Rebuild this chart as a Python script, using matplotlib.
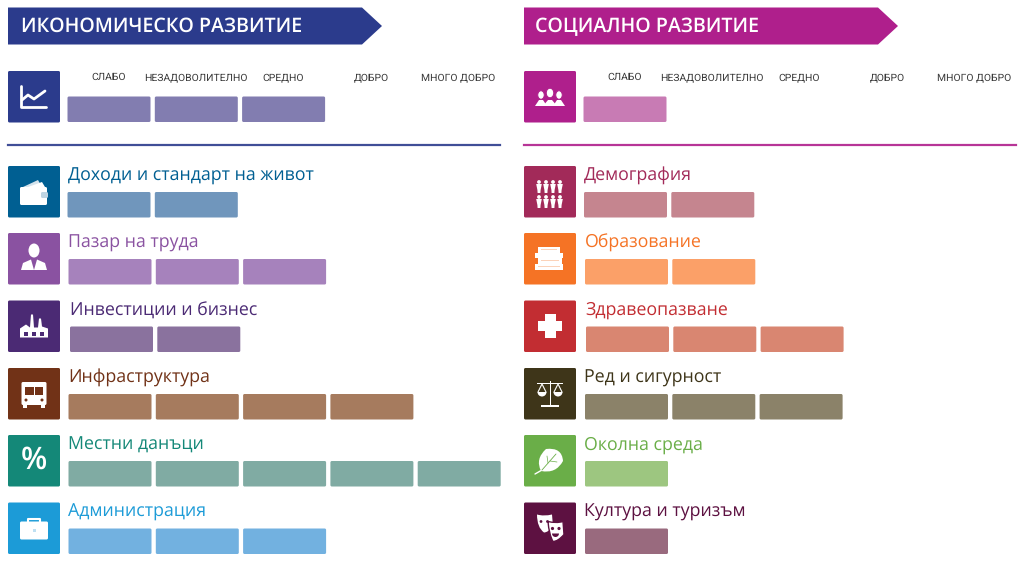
import matplotlib
matplotlib.use("Agg")
import matplotlib.pyplot as plt
from matplotlib.path import Path
from matplotlib.patches import FancyBboxPatch, PathPatch, Polygon, Rectangle, Circle, Ellipse, Wedge

# --- data ---
rating_labels = ["СЛАБО", "НЕЗАДОВОЛИТЕЛНО", "СРЕДНО", "ДОБРО", "МНОГО ДОБРО"]

econ_title = "ИКОНОМИЧЕСКО РАЗВИТИЕ"
econ_overall = 3
econ_names = ["Доходи и стандарт на живот", "Пазар на труда", "Инвестиции и бизнес",
              "Инфраструктура", "Местни данъци", "Администрация"]
econ_scores = [2, 3, 2, 4, 5, 3]

social_title = "СОЦИАЛНО РАЗВИТИЕ"
social_overall = 1
social_names = ["Демография", "Образование", "Здравеопазване",
                "Ред и сигурност", "Околна среда", "Култура и туризъм"]
social_scores = [2, 2, 3, 3, 1, 1]

# styles
econ_main, econ_bar = "#2B3B8C", "#827DB0"
social_main, social_bar = "#AF1F8C", "#C87BB4"
econ_colors = ["#005F92", "#8A52A1", "#4B2A74", "#713217", "#148878", "#1C9BD7"]
econ_bars = ["#7096BC", "#A682BC", "#8A729E", "#A67B5E", "#80ABA3", "#72B1E0"]
social_colors = ["#A22A59", "#F57325", "#C22D32", "#3E3519", "#6AAE48", "#5D1141"]
social_bars = ["#C5858F", "#FBA068", "#D98671", "#8B8269", "#9DC680", "#996A7E"]
econ_icons = ["wallet", "person", "factory", "bus", "percent", "case"]
social_icons = ["crowd", "books", "cross", "scales", "leaf", "masks"]
econ_offsets = [59.5, 60.5, 62, 60.5, 60.5, 60.5]
social_offsets = [60, 61, 62, 61, 61, 61]
label_offsets = [0, 1, 2, 1, 1, 1]

ROW_TOPS = [166, 233, 300.5, 368, 435, 502.5]
RATING_X = [100.5, 188, 275.5, 363.5, 450.5]
BAR_W, BAR_PITCH = 83, 87.3
ICON = 52

plt.rcParams["font.family"] = ["Open Sans", "DejaVu Sans"]
plt.rcParams["text.hinting"] = "no_hinting"
fig = plt.figure(figsize=(10.24, 5.61), dpi=100)
ax = fig.add_axes([0, 0, 1, 1])
ax.set_xlim(0, 1024)
ax.set_ylim(561, 0)
ax.axis("off")
W = "white"


def round_box(x, y, w, h, color):
    ax.add_patch(FancyBboxPatch((x + 1, y + 1), w - 2, h - 2, boxstyle="round,pad=1,rounding_size=1.5",
                                fc=color, ec="none"))


def draw_bars(x, y, n, color):
    for i in range(n):
        round_box(x + i * BAR_PITCH, y, BAR_W, 25.5, color)


def draw_icon(kind, x, y, bg):
    def rect(a, b, w, h, c=W):
        ax.add_patch(Rectangle((x + a, y + b), w, h, fc=c, ec="none"))

    def poly(pts, c=W):
        ax.add_patch(Polygon([(x + p, y + q) for p, q in pts], fc=c, ec="none"))

    def circ(a, b, r, c=W):
        ax.add_patch(Circle((x + a, y + b), r, fc=c, ec="none"))

    def line(pts, lw=1.5, c=W):
        ax.plot([x + p for p, _ in pts], [y + q for _, q in pts], color=c, lw=lw,
                solid_capstyle="round", solid_joinstyle="round")

    def curve(pts, codes, fc=W, ec="none", lw=0.8):
        ax.add_patch(PathPatch(Path([(x + p, y + q) for p, q in pts], codes), fc=fc, ec=ec, lw=lw))

    if kind == "trend":
        line([(13, 15), (13, 36), (38, 36)], 2.0)
        line([(14, 29), (20, 24), (26, 28), (37, 20)], 2.0)
    elif kind == "wallet":
        poly([(15, 21), (30, 14), (34, 21)], "#D5E3EC")
        poly([(20, 21), (34, 16), (37, 21)])
        round_box(x + 12, y + 21, 27, 18, W)
        round_box(x + 33, y + 26, 7, 6, "#BFD5E3")
    elif kind == "person":
        ax.add_patch(Ellipse((x + 26, y + 17.5), 11, 14, fc=W, ec="none"))
        poly([(13, 37), (15, 30), (23, 26.5), (26, 37), (29, 26.5), (37, 30), (39, 37)])
    elif kind == "factory":
        poly([(12, 37), (12, 28), (18, 24), (22, 27), (23, 14), (25, 14), (26, 27), (30, 27),
              (31, 18), (33, 18), (34, 26), (40, 28), (40, 37)])
        for i in range(3):
            rect(16 + i * 8, 31.5, 3.5, 3.5, bg)
    elif kind == "bus":
        round_box(x + 13.5, y + 14, 25, 23, W)
        rect(17, 19, 8.5, 8, bg)
        rect(26.5, 19, 8.5, 8, bg)
        circ(18, 32, 1.5, bg)
        circ(34, 32, 1.5, bg)
        rect(15, 37, 4, 3)
        rect(33, 37, 4, 3)
    elif kind == "percent":
        ax.text(x + 26, y + 25.5, "%", color=W, fontsize=22, fontweight="semibold", ha="center", va="center")
    elif kind == "case":
        round_box(x + 12, y + 19, 28, 18, W)
        ax.plot([x + 20, x + 20, x + 32, x + 32], [y + 19, y + 16, y + 16, y + 19], color=W, lw=1.5)
        rect(12, 27, 28, 0.8, bg)
        rect(24.5, 26, 3, 3, "#BFE0F2")
    elif kind == "group":
        for a, s in [(17, 1), (35, 1), (26, 0)]:
            ax.add_patch(Ellipse((x + a, y + 24 - (1 - s) * 2), 6.5 + (1 - s), 8.5 + (1 - s),
                                 fc=W, ec=bg, lw=0.7))
            poly([(a - 6 - (1 - s), 35), (a - 2, 29), (a + 2, 29), (a + 6 + (1 - s), 35)])
    elif kind == "crowd":
        for row in (17, 32):
            for col in (15, 22, 29, 36):
                circ(col, row - 1, 1.9)
                poly([(col - 2.8, row + 1), (col + 2.8, row + 1), (col + 1.6, row + 7), (col + 1.4, row + 10),
                      (col - 1.4, row + 10), (col - 1.6, row + 7)])
    elif kind == "books":
        for b, a, w in [(14, 14, 22), (19.5, 11, 28), (25, 14, 24), (31, 11, 28)]:
            rect(a, b, w, 5.6)
            rect(a + 3, b + 2, w - 6, 0.5, "#FBD3BA")
    elif kind == "cross":
        rect(20.5, 13.5, 11, 24)
        rect(14, 20.5, 24, 10)
    elif kind == "scales":
        rect(25.5, 13, 1.4, 24)
        rect(17, 37, 18, 1.5)
        rect(13, 15, 26, 1.3)
        for a in (18, 34):
            line([(a - 4, 24), (a, 16), (a + 4, 24)], 0.8)
            ax.add_patch(Wedge((x + a, y + 24), 4.5, 0, 180, fc=W, ec="none"))
    elif kind == "leaf":
        curve([(17, 36), (11, 24), (22, 14), (38, 12), (39, 26), (32, 39), (17, 36)],
              [Path.MOVETO, Path.CURVE3, Path.CURVE3, Path.CURVE3, Path.CURVE3, Path.CURVE3, Path.CURVE3])
        line([(11, 39), (18, 35)], 1.0)
        line([(18, 35), (32, 19)], 0.6, bg)
        line([(24, 28), (23, 21)], 0.5, bg)
        line([(26, 26), (33, 27)], 0.5, bg)
    elif kind == "masks":
        back = [(13, 12), (20, 14), (28, 12), (29, 24), (24, 30), (20, 30), (13, 25), (13, 12)]
        codes = [Path.MOVETO, Path.CURVE3, Path.CURVE3, Path.LINETO, Path.CURVE3, Path.CURVE3, Path.CURVE3,
                 Path.CURVE3]
        curve(back, codes)
        circ(17, 19, 1.4, bg)
        circ(23.5, 19, 1.4, bg)
        front = [(24, 19), (32, 21), (39, 19), (40, 32), (34, 39), (29, 39), (25, 32), (24, 19)]
        curve(front, codes, ec=bg, lw=1.0)
        circ(28.5, 26, 1.6, bg)
        circ(35, 26, 1.6, bg)
        ax.add_patch(Wedge((x + 31.5, y + 31), 3.5, 0, 180, fc=bg, ec="none"))


def draw_column(x0, title, title_x, main, overall, overall_bar, head_icon, names, scores, colors,
                bars, icons, offsets):
    # arrow banner
    ax.add_patch(Polygon([(x0, 7.5), (x0 + 354, 7.5), (x0 + 374, 26), (x0 + 354, 44.5), (x0, 44.5)],
                         fc=main, ec="none"))
    ax.text(x0 + title_x, 26.5, title, color=W, fontsize=14.1, fontweight="semibold", va="center")

    # overall block
    round_box(x0, 71, ICON, ICON - 0.5, main)
    draw_icon(head_icon, x0, 71, main)
    for i, lab in enumerate(rating_labels):
        ax.text(x0 + RATING_X[i], 77.5, lab, color="#3A3A3A", fontsize=7.5, ha="center", va="center",
                family=["Roboto", "Open Sans"])
    draw_bars(x0 + 59.5, 96.5, overall, overall_bar)
    ax.plot([x0, x0 + 492], [144.5, 144.5], color=main, lw=1.6, alpha=0.9)

    # topic rows
    for top, name, n, col, bar, ic, off, lo in zip(ROW_TOPS, names, scores, colors, bars, icons,
                                                   offsets, label_offsets):
        round_box(x0, top, ICON, ICON - 0.5, col)
        draw_icon(ic, x0, top, col)
        ax.text(x0 + 59.5 + lo, top + 10, name, color=col, fontsize=12.8, va="center")
        draw_bars(x0 + off, top + 26, n, bar)


draw_column(8, econ_title, 13, econ_main, econ_overall, econ_bar, "trend", econ_names, econ_scores,
            econ_colors, econ_bars, econ_icons, econ_offsets)
draw_column(524, social_title, 11, social_main, social_overall, social_bar, "group", social_names,
            social_scores, social_colors, social_bars, social_icons, social_offsets)

fig.savefig("out.png", dpi=100)
